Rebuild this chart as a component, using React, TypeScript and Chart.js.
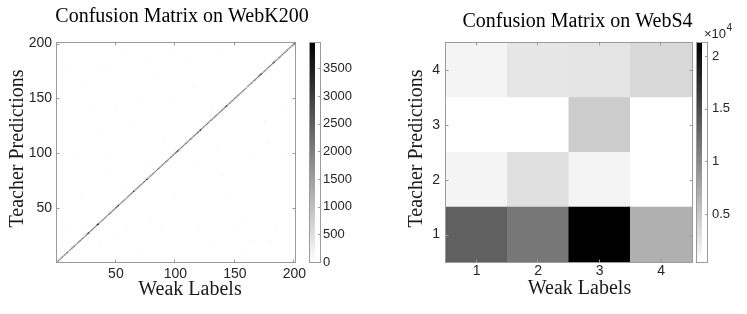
import React, { useEffect, useRef } from 'react';
import { Chart, registerables } from 'chart.js';

Chart.register(...registerables);

// ---------------- data ----------------
const k200Title = 'Confusion Matrix on WebK200';
const s4Title = 'Confusion Matrix on WebS4';
const xAxisTitle = 'Weak Labels';
const yAxisTitle = 'Teacher Predictions';

const k200AxisTicks = [50, 100, 150, 200];
// diagonal counts (weak label i predicted as i), i = 1..200
const k200Diagonal = [
  1850, 2100, 1600, 1900, 2300, 1700, 2000, 1500, 2200, 3400,
  1900, 1600, 2100, 1800, 2500, 1700, 1400, 2000, 1900, 2200,
  1700, 2300, 1800, 1600, 2100, 2600, 3600, 1900, 1700, 2000,
  1800, 2200, 1600, 2400, 3960, 2000, 1700, 1900, 2300, 1500,
  2100, 1800, 1600, 2000, 2400, 1700, 1900, 2200, 1800, 2700,
  2300, 3500, 1900, 1600, 2000, 1800, 2200, 1700, 1500, 2100,
  1900, 1800, 2300, 2000, 3300, 1700, 1600, 2100, 1900, 2200,
  1800, 1500, 2000, 2400, 1700, 3700, 1900, 1600, 2100, 1800,
  2200, 1700, 1900, 1500, 2000, 2300, 1800, 1600, 2100, 1900,
  1700, 2200, 2000, 1800, 1600, 2400, 1900, 2100, 1700, 2500,
  2800, 3800, 2000, 1700, 1900, 2200, 1600, 1800, 2100, 1900,
  1700, 2000, 2300, 1600, 1800, 2100, 1900, 2200, 2600, 1800,
  3900, 2100, 1700, 1900, 1600, 2000, 2200, 1800, 1500, 2100,
  1900, 1700, 2300, 1800, 2000, 1600, 2100, 1900, 2400, 1700,
  2200, 2700, 3500, 1900, 1700, 2000, 1800, 2200, 1600, 2100,
  1800, 1900, 2300, 1700, 2000, 1600, 2200, 1800, 1900, 2100,
  1700, 2000, 1800, 2400, 1600, 1900, 2200, 1700, 2000, 2600,
  2300, 3400, 1900, 1700, 2100, 1800, 1600, 2000, 2200, 1900,
  1700, 2500, 3600, 1800, 2000, 1600, 2100, 1900, 1700, 2200,
  1800, 2000, 1600, 2300, 1900, 1700, 2100, 1800, 2000, 2400,
];
// faint off-diagonal confusions
const k200OffCols = [4, 37, 178, 12, 25, 60, 88, 120, 150, 185, 8, 40, 75, 110, 140, 170, 30, 50, 70, 95,
  130, 160, 190, 15, 45, 80, 140, 165, 185, 20, 55, 100, 125, 160, 180, 10, 70, 130, 160, 195,
  35, 65, 90, 150, 175, 25, 85, 115, 135, 60, 100, 150, 5, 42, 115, 145, 190, 48, 165, 80];
const k200OffRows = [141, 16, 110, 31, 31, 31, 31, 31, 31, 31, 178, 178, 185, 182, 190, 178, 140, 141, 150, 145,
  141, 160, 140, 95, 100, 90, 80, 95, 70, 60, 70, 60, 50, 40, 20, 10, 12, 15, 8, 45,
  120, 125, 115, 120, 130, 165, 170, 160, 105, 195, 195, 198, 55, 85, 88, 62, 100, 25, 20, 40];
const k200OffValues = [300, 420, 380, 220, 180, 240, 200, 260, 190, 230, 250, 210, 180, 240, 200, 220, 260, 230, 190, 210,
  240, 180, 250, 200, 230, 190, 210, 250, 180, 220, 200, 240, 190, 230, 210, 260, 180, 220, 200, 240,
  190, 230, 210, 180, 250, 200, 220, 190, 240, 210, 180, 230, 200, 220, 190, 240, 210, 250, 180, 230];
const k200ColorMin = 0;
const k200ColorMax = 3960;
const k200ColorTicks = [0, 500, 1000, 1500, 2000, 2500, 3000, 3500];

const s4Classes = [1, 2, 3, 4];
// rows = teacher prediction, columns = weak label 1..4
const s4PredRow1 = [13400, 11530, 21230, 6880];
const s4PredRow2 = [1340, 2970, 1340, 440];
const s4PredRow3 = [470, 460, 4600, 450];
const s4PredRow4 = [1340, 2480, 2640, 3540];
const s4ColorTicks = [5000, 10000, 15000, 20000];
const s4ColorTickLabels = ['0.5', '1', '1.5', '2'];
const s4ColorExponent = '4';

// ---------------- helpers ----------------
const SERIF = "'Liberation Serif', 'Times New Roman', serif";
const SANS = "'Liberation Sans', Arial, Helvetica, sans-serif";
const BOX = '#9a9a9a';
const TICKTXT = '#262626';
const H = 314;

function grayFor(v: number, min: number, max: number) {
  const t = Math.max(0, Math.min(1, (v - min) / (max - min)));
  const g = Math.round(255 * (1 - t));
  return `rgb(${g},${g},${g})`;
}

function zeroPad(s: any) {
  s.paddingLeft = 0; s.paddingRight = 0; s.paddingTop = 0; s.paddingBottom = 0;
}

function axisScale(position: string, min: number, max: number, ticks: number[], size: number, tickPad: number) {
  const horizontal = position === 'bottom';
  return {
    type: 'linear',
    position,
    min,
    max,
    offset: false,
    grid: { display: false, drawTicks: false, tickLength: 0 },
    border: { display: false },
    ticks: {
      font: { family: SANS, size: 14 },
      color: TICKTXT,
      padding: tickPad,
      autoSkip: false,
      maxRotation: 0,
      includeBounds: false,
    },
    afterBuildTicks: (s: any) => { s.ticks = ticks.map((v) => ({ value: v })); },
    afterFit: (s: any) => {
      if (horizontal) s.height = size; else s.width = size;
      zeroPad(s);
    },
  };
}

function framePlugin(len: number) {
  return {
    id: 'matlabFrame',
    afterDatasetsDraw(chart: any) {
      const { ctx, chartArea: a, scales } = chart;
      ctx.save();
      ctx.strokeStyle = BOX;
      ctx.lineWidth = 1;
      ctx.beginPath();
      for (const t of scales.x.ticks) {
        const px = Math.round(scales.x.getPixelForValue(t.value)) - 0.5;
        ctx.moveTo(px, a.bottom); ctx.lineTo(px, a.bottom - len);
        ctx.moveTo(px, a.top); ctx.lineTo(px, a.top + len);
      }
      for (const t of scales.y.ticks) {
        const py = Math.round(scales.y.getPixelForValue(t.value)) + 0.5;
        ctx.moveTo(a.left, py); ctx.lineTo(a.left + len, py);
        ctx.moveTo(a.right, py); ctx.lineTo(a.right - len, py);
      }
      ctx.stroke();
      ctx.strokeRect(a.left - 0.5, a.top - 0.5, a.right - a.left + 1, a.bottom - a.top + 1);
      ctx.restore();
    },
  };
}

function textPlugin(title: string, titleDx: number, titleY: number, xDx: number, xY: number, yX: number, yY: number) {
  return {
    id: 'figureText',
    afterDraw(chart: any) {
      const { ctx, chartArea: a } = chart;
      const cx = (a.left + a.right) / 2;
      ctx.save();
      ctx.fillStyle = '#000';
      ctx.textAlign = 'center';
      ctx.textBaseline = 'middle';
      ctx.font = `20px ${SERIF}`;
      ctx.fillText(title, cx + titleDx, titleY);
      ctx.fillStyle = '#1a1a1a';
      ctx.fillText(xAxisTitle, cx + xDx, xY);
      ctx.translate(yX, yY);
      ctx.rotate(-Math.PI / 2);
      ctx.fillText(yAxisTitle, 0, 0);
      ctx.restore();
    },
  };
}

function colorbarFrame(exponent: string | null) {
  return {
    id: 'colorbarFrame',
    afterDatasetsDraw(chart: any) {
      const { ctx, chartArea: a, scales } = chart;
      ctx.save();
      ctx.strokeStyle = BOX;
      ctx.lineWidth = 1;
      ctx.beginPath();
      for (const t of scales.y.ticks) {
        const py = Math.round(scales.y.getPixelForValue(t.value)) + 0.5;
        ctx.moveTo(a.right, py); ctx.lineTo(a.right - 2, py);
      }
      ctx.stroke();
      ctx.strokeRect(a.left - 0.5, a.top - 0.5, a.right - a.left + 1, a.bottom - a.top + 1);
      if (exponent) {
        ctx.fillStyle = TICKTXT;
        ctx.textAlign = 'left';
        ctx.textBaseline = 'alphabetic';
        ctx.font = `13px ${SANS}`;
        const x0 = a.left + 7;
        ctx.fillText('\u00d710', x0, a.top - 5);
        const w = ctx.measureText('\u00d710').width;
        ctx.font = `10px ${SANS}`;
        ctx.fillText(exponent, x0 + w + 0.5, a.top - 12);
      }
      ctx.restore();
    },
  };
}

function cellColorsFor(values: number[], min: number, max: number) {
  return values.map((v) => grayFor(v, min, max));
}

// ---------------- configs ----------------
function k200Config(): any {
  const diagData = k200Diagonal.map((_, i) => ({ x: i + 1, y: [i + 0.5, i + 1.5] }));
  const offData = k200OffCols.map((c, i) => ({ x: c, y: [k200OffRows[i] - 0.5, k200OffRows[i] + 0.5] }));
  return {
    type: 'bar',
    data: {
      datasets: [
        { label: 'off', data: offData, backgroundColor: cellColorsFor(k200OffValues, k200ColorMin, k200ColorMax), inflateAmount: 0 },
        { label: 'diag', data: diagData, backgroundColor: cellColorsFor(k200Diagonal, k200ColorMin, k200ColorMax), inflateAmount: 0.15 },
      ],
    },
    options: {
      responsive: false,
      animation: false,
      events: [],
      datasets: { bar: { grouped: false, barPercentage: 1, categoryPercentage: 1, borderWidth: 0 } },
      layout: { padding: { left: 0, right: 25, top: 43, bottom: 0 } },
      plugins: { legend: { display: false }, tooltip: { enabled: false }, title: { display: false } },
      scales: {
        x: axisScale('bottom', 0.5, 200.5, k200AxisTicks, 52, 4),
        y: axisScale('left', 0.5, 200.5, k200AxisTicks, 57, 5),
      },
    },
    plugins: [framePlugin(2.5), textPlugin(k200Title, 6, 17, 14, 290, 17.5, 148.5)],
  };
}

function s4Config(): any {
  const rows = [s4PredRow1, s4PredRow2, s4PredRow3, s4PredRow4];
  const all = rows.flat();
  const min = Math.min(...all);
  const max = Math.max(...all);
  return {
    type: 'bar',
    data: {
      datasets: rows.map((row, r) => ({
        label: `pred ${s4Classes[r]}`,
        data: row.map((_, c) => ({ x: s4Classes[c], y: [s4Classes[r] - 0.5, s4Classes[r] + 0.5] })),
        backgroundColor: cellColorsFor(row, min, max),
      })),
    },
    options: {
      responsive: false,
      animation: false,
      events: [],
      datasets: { bar: { grouped: false, barPercentage: 1, categoryPercentage: 1, borderWidth: 0, inflateAmount: 0.5 } },
      layout: { padding: { left: 0, right: 8, top: 43, bottom: 0 } },
      plugins: { legend: { display: false }, tooltip: { enabled: false }, title: { display: false } },
      scales: {
        x: axisScale('bottom', 0.5, 4.5, s4Classes, 52, 1),
        y: axisScale('left', 0.5, 4.5, s4Classes, 66, 6),
      },
    },
    plugins: [framePlugin(2.5), textPlugin(s4Title, 8.5, 22, 10.5, 289, 37, 148.5)],
  };
}

function colorbarConfig(cmin: number, cmax: number, ticks: number[], labels: string[] | null,
  padLeft: number, axisWidth: number, tickPad: number, exponent: string | null): any {
  return {
    type: 'bar',
    data: {
      labels: [''],
      datasets: [{
        data: [[cmin, cmax]],
        backgroundColor: (c: any) => {
          const a = c.chart.chartArea;
          if (!a) return '#808080';
          const g = c.chart.ctx.createLinearGradient(0, a.bottom, 0, a.top);
          g.addColorStop(0, '#ffffff');
          g.addColorStop(1, '#000000');
          return g;
        },
        borderWidth: 0,
        barPercentage: 1,
        categoryPercentage: 1,
        inflateAmount: 0,
      }],
    },
    options: {
      responsive: false,
      animation: false,
      events: [],
      layout: { padding: { left: padLeft, right: 0, top: 43, bottom: 52 } },
      plugins: { legend: { display: false }, tooltip: { enabled: false }, title: { display: false } },
      scales: {
        x: { display: false, offset: false },
        y: {
          type: 'linear',
          position: 'right',
          min: cmin,
          max: cmax,
          grid: { display: false, drawTicks: false, tickLength: 0 },
          border: { display: false },
          ticks: {
            font: { family: SANS, size: 13 },
            color: TICKTXT,
            padding: tickPad,
            autoSkip: false,
            includeBounds: false,
            callback: (v: number) => {
              if (!labels) return String(v);
              const i = ticks.indexOf(v);
              return i >= 0 ? labels[i] : '';
            },
          },
          afterBuildTicks: (s: any) => { s.ticks = ticks.map((v) => ({ value: v })); },
          afterFit: (s: any) => { s.width = axisWidth; zeroPad(s); },
        },
      },
    },
    plugins: [colorbarFrame(exponent)],
  };
}

function k200BarConfig() {
  return colorbarConfig(k200ColorMin, k200ColorMax, k200ColorTicks, null, 10, 40, 3, null);
}

function s4BarConfig() {
  const all = [s4PredRow1, s4PredRow2, s4PredRow3, s4PredRow4].flat();
  return colorbarConfig(Math.min(...all), Math.max(...all), s4ColorTicks, s4ColorTickLabels, 7, 40, 5, s4ColorExponent);
}

// ---------------- components ----------------
function ChartCanvas({ makeConfig, left, width }: { makeConfig: () => any; left: number; width: number }) {
  const ref = useRef<HTMLCanvasElement | null>(null);
  useEffect(() => {
    if (!ref.current) return;
    const chart = new Chart(ref.current, makeConfig());
    return () => chart.destroy();
  }, [makeConfig]);
  return (
    <canvas
      ref={ref}
      width={width}
      height={H}
      style={{ position: 'absolute', left, top: 0, width, height: H }}
    />
  );
}

export default function App() {
  return (
    <div style={{ position: 'absolute', left: 0, top: 0, width: 747, height: H, background: '#ffffff', overflow: 'hidden' }}>
      <ChartCanvas makeConfig={k200Config} left={0} width={320} />
      <ChartCanvas makeConfig={k200BarConfig} left={300} width={60} />
      <ChartCanvas makeConfig={s4Config} left={380} width={320} />
      <ChartCanvas makeConfig={s4BarConfig} left={690} width={57} />
    </div>
  );
}
